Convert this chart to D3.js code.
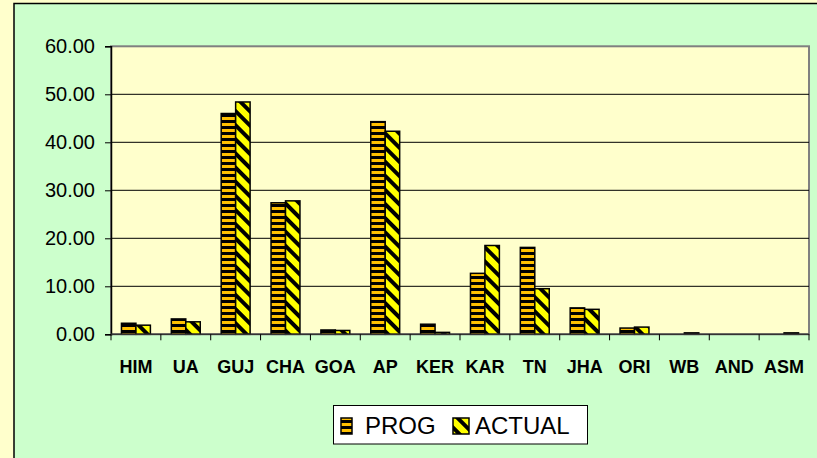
<!DOCTYPE html>
<html lang="en">
<head>
    <meta charset="UTF-8">
    <title>PROG vs ACTUAL</title>
    <script src="https://d3js.org/d3.v7.min.js"></script>
    <style>
        body { margin: 0; background: #FFFFCC; }
        text { font-family: "Liberation Sans", Arial, sans-serif; }
    </style>
</head>
<body>
<script>
    // data
    var categories = ['HIM', 'UA', 'GUJ', 'CHA', 'GOA', 'AP', 'KER', 'KAR', 'TN', 'JHA', 'ORI', 'WB', 'AND', 'ASM'];
    var prog   = [2.3, 3.2, 46.0, 27.4, 0.9, 44.3, 2.1, 12.7, 18.1, 5.5, 1.3, 0, 0, 0];
    var actual = [1.9, 2.6, 48.4, 27.8, 0.8, 42.3, 0.4, 18.5, 9.5, 5.2, 1.5, 0.3, 0, 0.3];
    var seriesNames = ['PROG', 'ACTUAL'];
    var yTicks = [0, 10, 20, 30, 40, 50, 60];

    var w = 817, h = 458;
    var plotL = 111, plotR = 809, plotT = 46.3, plotB = 334.3;

    var svg = d3.select('body')
                .append('svg')
                .attr('width', w)
                .attr('height', h);

    var defs = svg.append('defs');

    // horizontal stripes for PROG
    var p1 = defs.append('pattern')
        .attr('id', 'progPat')
        .attr('patternUnits', 'userSpaceOnUse')
        .attr('width', 6).attr('height', 6);
    p1.append('rect').attr('width', 6).attr('height', 6).attr('fill', '#FFC000');
    p1.append('rect').attr('y', 0).attr('width', 6).attr('height', 3).attr('fill', '#000');

    // downward diagonal stripes for ACTUAL
    var p2 = defs.append('pattern')
        .attr('id', 'actPat')
        .attr('patternUnits', 'userSpaceOnUse')
        .attr('width', 10).attr('height', 10)
        .attr('patternTransform', 'rotate(45)');
    p2.append('rect').attr('width', 10).attr('height', 10).attr('fill', '#FFFF00');
    p2.append('rect').attr('width', 10).attr('height', 4).attr('fill', '#000');

    // green chart box
    svg.append('rect')
        .attr('x', 14).attr('y', 3.5)
        .attr('width', w).attr('height', h)
        .attr('fill', '#CCFFCC')
        .attr('stroke', '#000')
        .attr('stroke-width', 1.5);

    // plot area
    svg.append('rect')
        .attr('x', plotL).attr('y', plotT)
        .attr('width', plotR - plotL).attr('height', plotB - plotT)
        .attr('fill', '#FFFFCC')
        .attr('stroke', '#808080')
        .attr('stroke-width', 2);

    var xScale = d3.scaleBand()
                   .domain(categories)
                   .range([plotL, plotR]);

    var yScale = d3.scaleLinear()
                   .domain([0, 60])
                   .range([plotB, plotT]);

    var barW = xScale.bandwidth() * 0.29;
    var offset = xScale.bandwidth() * 0.21;

    // gridlines
    svg.append('g')
        .selectAll('line')
        .data(yTicks.filter(d => d > 0 && d < 60))
        .enter()
        .append('line')
        .attr('x1', plotL).attr('x2', plotR)
        .attr('y1', d => yScale(d)).attr('y2', d => yScale(d))
        .attr('stroke', '#000')
        .attr('stroke-width', 1);

    // bars
    var rows = categories.map((c, i) => ({cat: c, vals: [prog[i], actual[i]]}));
    var fills = ['url(#progPat)', 'url(#actPat)'];

    rows.forEach(function(r) {
        r.vals.forEach(function(v, j) {
            if (v <= 0) return;
            svg.append('rect')
                .attr('x', xScale(r.cat) + offset + j * barW)
                .attr('y', yScale(v))
                .attr('width', barW)
                .attr('height', yScale(0) - yScale(v))
                .attr('fill', fills[j])
                .attr('stroke', '#000')
                .attr('stroke-width', 1.5);
        });
    });

    // y axis
    var yAxis = d3.axisLeft(yScale)
                  .tickValues(yTicks)
                  .tickFormat(d3.format('.2f'))
                  .tickSize(6)
                  .tickPadding(10);

    var gy = svg.append('g')
        .attr('transform', 'translate(' + plotL + ',0)')
        .call(yAxis);
    gy.selectAll('text')
        .attr('font-size', 20)
        .attr('fill', '#000')
        .style('font-family', '"Liberation Sans", Arial, sans-serif');
    gy.selectAll('.tick line').attr('stroke', '#000');
    gy.select('.domain').attr('stroke', '#000').attr('stroke-width', 1.5);

    // x axis: ticks at category boundaries
    var gx = svg.append('g');
    gx.append('line')
        .attr('x1', plotL).attr('x2', plotR)
        .attr('y1', plotB).attr('y2', plotB)
        .attr('stroke', '#333').attr('stroke-width', 1.5);
    gx.selectAll('.xt')
        .data(categories.concat(['end']))
        .enter()
        .append('line')
        .attr('x1', (d, i) => plotL + i * xScale.step())
        .attr('x2', (d, i) => plotL + i * xScale.step())
        .attr('y1', plotB).attr('y2', plotB + 6)
        .attr('stroke', '#000');
    gx.selectAll('text')
        .data(categories)
        .enter()
        .append('text')
        .attr('x', d => xScale(d) + xScale.bandwidth() / 2)
        .attr('y', 373)
        .attr('text-anchor', 'middle')
        .attr('font-size', 18)
        .attr('font-weight', 'bold')
        .text(d => d);

    // legend
    var lg = svg.append('g');
    lg.append('rect')
        .attr('x', 333.5).attr('y', 405.5)
        .attr('width', 254).attr('height', 38.5)
        .attr('fill', '#fff')
        .attr('stroke', '#000');
    var legItems = [
        {name: seriesNames[0], fill: fills[0], sx: 341, sw: 11, tx: 365},
        {name: seriesNames[1], fill: fills[1], sx: 453, sw: 16, tx: 475}
    ];
    legItems.forEach(function(it) {
        lg.append('rect')
            .attr('x', it.sx).attr('y', 418)
            .attr('width', it.sw).attr('height', 16)
            .attr('fill', it.fill)
            .attr('stroke', '#000')
            .attr('stroke-width', 1.5);
        lg.append('text')
            .attr('x', it.tx).attr('y', 434)
            .attr('font-size', 24)
            .text(it.name);
    });
</script>
</body>
</html>
